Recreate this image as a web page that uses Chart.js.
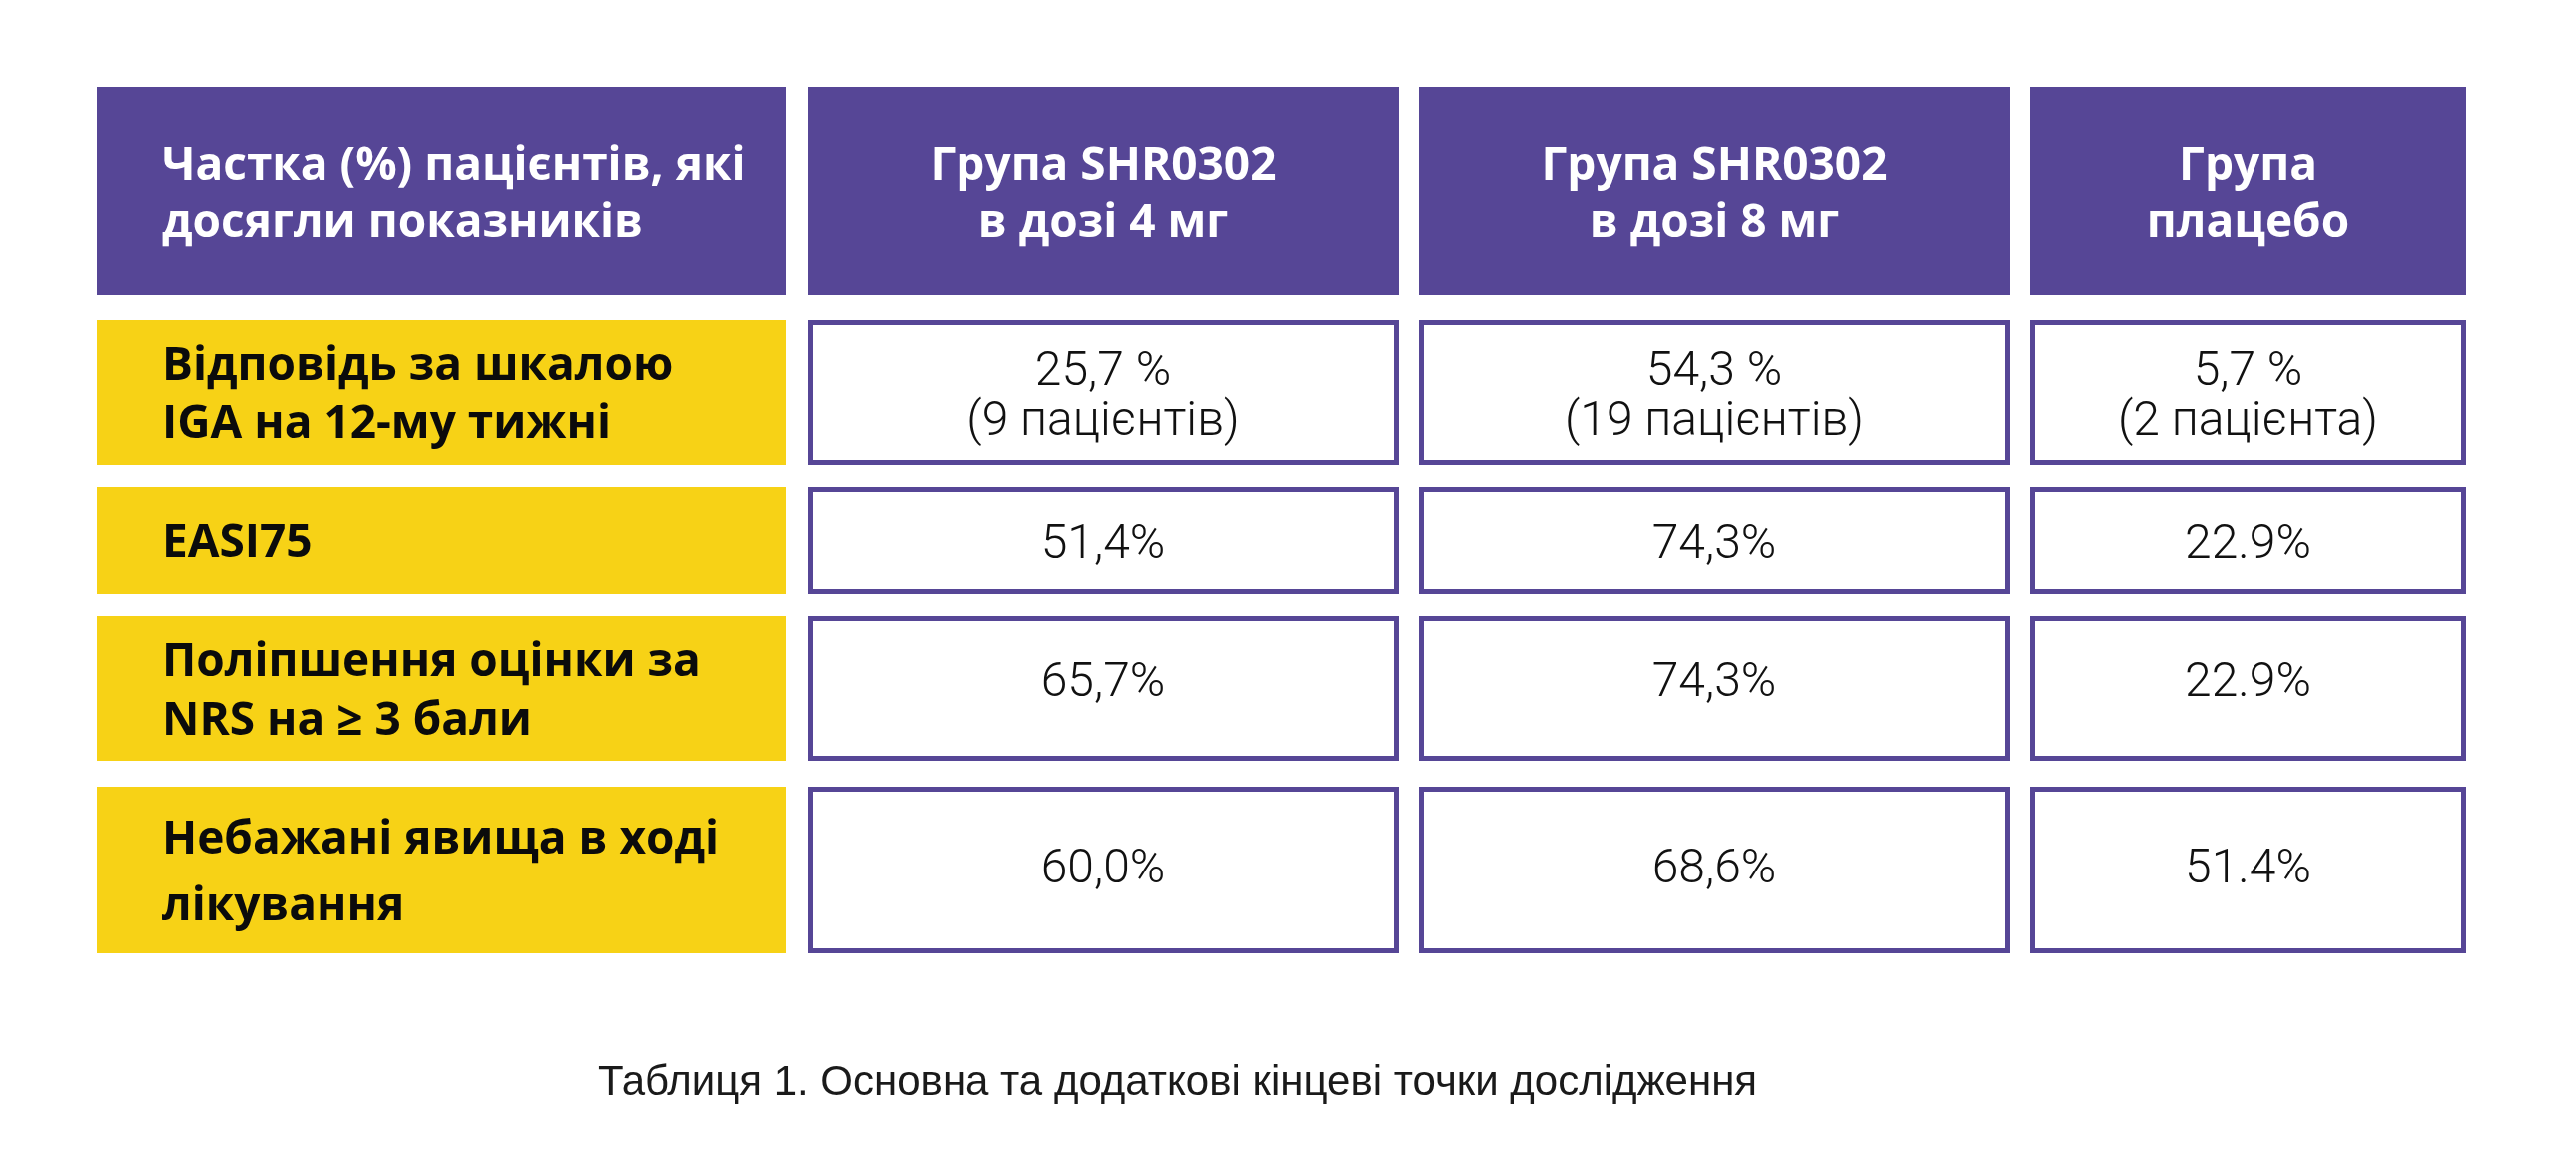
<!DOCTYPE html>
<html><head><meta charset="utf-8">
<script src="https://cdn.jsdelivr.net/npm/chart.js@4.4.1/dist/chart.umd.min.js"></script>
<style>
html,body{margin:0;padding:0;background:#ffffff;overflow:hidden}
#wrap{position:relative;width:2580px;height:1163px}
</style>
</head><body>
<div id="wrap"><canvas id="c"></canvas></div>
<script>
// ---------- DATA ----------
const columnHeaders = [
  ['Частка (%) пацієнтів, які', 'досягли показників'],
  ['Група SHR0302', 'в дозі 4 мг'],
  ['Група SHR0302', 'в дозі 8 мг'],
  ['Група', 'плацебо']
];
const rowLabels = [
  ['Відповідь за шкалою', 'IGA на 12-му тижні'],
  ['EASI75'],
  ['Поліпшення оцінки за', 'NRS на ≥ 3 бали'],
  ['Небажані явища в ході', 'лікування']
];
const dose4mgValues = ['25,7 %', '51,4%', '65,7%', '60,0%'];
const dose4mgNotes  = ['(9 пацієнтів)', '', '', ''];
const dose8mgValues = ['54,3 %', '74,3%', '74,3%', '68,6%'];
const dose8mgNotes  = ['(19 пацієнтів)', '', '', ''];
const placeboValues = ['5,7 %', '22.9%', '22.9%', '51.4%'];
const placeboNotes  = ['(2 пацієнта)', '', '', ''];
const captionText = 'Таблиця 1. Основна та додаткові кінцеві точки дослідження';

// ---------- LAYOUT / STYLE ----------
const CANVAS_W = 2580, CANVAS_H = 1163;
const COL_EDGES = [[97, 787], [809, 1401], [1421, 2013], [2033, 2470]];
const ROW_EDGES = [[87, 296], [321, 466], [488, 595], [617, 762], [788, 955]];
const LINE_STEP = [57, 58, 0, 59, 67];
const VALUE_SHIFT = [0, 0, 0, -10, -5];
const LABEL_INDENT = 65;
const PURPLE = '#564696';
const YELLOW = '#F7D216';
const HEADER_STYLE = { font: 'bold 46px "Open Sans", Lato, sans-serif', color: '#ffffff', cap: 33 };
const LABEL_STYLE  = { font: 'bold 46px "Open Sans", Lato, sans-serif', color: '#0b0b0b', cap: 33 };
const VALUE_STYLE  = { font: '300 48px Roboto, Lato, sans-serif', color: '#111111', cap: 34, step: 50 };
const CAPTION_STYLE = { font: '42px "Liberation Sans", Arial, sans-serif', color: '#1a1a1a', x: 1179.5, baseline: 1097 };

// ---------- BUILD TABLE ----------
const valueCols = [
  [dose4mgValues, dose4mgNotes],
  [dose8mgValues, dose8mgNotes],
  [placeboValues, placeboNotes]
];
const cellLines = [columnHeaders].concat(rowLabels.map((lab, i) =>
  [lab].concat(valueCols.map(([vals, notes]) => [vals[i], notes[i]].filter(s => s)))
));

const datasets = ROW_EDGES.map((edges, r) => ({
  label: r === 0 ? 'header' : rowLabels[r - 1].join(' '),
  stack: 'table',
  barThickness: edges[1] - edges[0],
  data: COL_EDGES.map(ce => ({ x: [ce[0], ce[1]], y: (edges[0] + edges[1]) / 2 })),
  backgroundColor: COL_EDGES.map((_, c) => r === 0 ? PURPLE : (c === 0 ? YELLOW : '#ffffff')),
  borderColor: PURPLE,
  borderWidth: COL_EDGES.map((_, c) => (r > 0 && c > 0) ? 5 : 0),
  borderSkipped: false,
  inflateAmount: 0
}));

const tableText = {
  id: 'tableText',
  afterDatasetsDraw(chart) {
    const ctx = chart.ctx;
    ctx.save();
    chart.data.datasets.forEach((ds, r) => {
      const meta = chart.getDatasetMeta(r);
      meta.data.forEach((bar, c) => {
        const left = Math.min(bar.x, bar.base);
        const right = Math.max(bar.x, bar.base);
        const cy = bar.y;
        const lines = cellLines[r][c];
        let style, step, shift = 0;
        if (r === 0) { style = HEADER_STYLE; step = LINE_STEP[r]; }
        else if (c === 0) { style = LABEL_STYLE; step = LINE_STEP[r]; }
        else { style = VALUE_STYLE; step = VALUE_STYLE.step; shift = VALUE_SHIFT[r]; }
        ctx.font = style.font;
        ctx.fillStyle = style.color;
        ctx.textBaseline = 'alphabetic';
        let tx;
        if (c === 0) { ctx.textAlign = 'left'; tx = left + LABEL_INDENT; }
        else { ctx.textAlign = 'center'; tx = (left + right) / 2; }
        const n = lines.length;
        lines.forEach((line, i) => {
          const by = cy + shift + style.cap / 2 + (i - (n - 1) / 2) * step;
          ctx.fillText(line, tx, by);
        });
      });
    });
    const xs = chart.scales.x, ys = chart.scales.y;
    ctx.font = CAPTION_STYLE.font;
    ctx.fillStyle = CAPTION_STYLE.color;
    ctx.textAlign = 'center';
    ctx.textBaseline = 'alphabetic';
    ctx.fillText(captionText, xs.getPixelForValue(CAPTION_STYLE.x), ys.getPixelForValue(CAPTION_STYLE.baseline));
    ctx.restore();
  }
};

new Chart(document.getElementById('c'), {
  type: 'bar',
  data: { datasets },
  options: {
    indexAxis: 'y',
    responsive: true,
    maintainAspectRatio: false,
    devicePixelRatio: 1,
    animation: false,
    layout: { padding: 0 },
    plugins: { legend: { display: false }, tooltip: { enabled: false }, title: { display: false } },
    events: [],
    scales: {
      x: { type: 'linear', min: 0, max: CANVAS_W, bounds: 'data', stacked: false, offset: false, grace: 0, display: false },
      y: { type: 'linear', min: 0, max: CANVAS_H, bounds: 'data', reverse: true, offset: false, grace: 0, display: false }
    }
  },
  plugins: [tableText]
});
</script>
</body></html>
